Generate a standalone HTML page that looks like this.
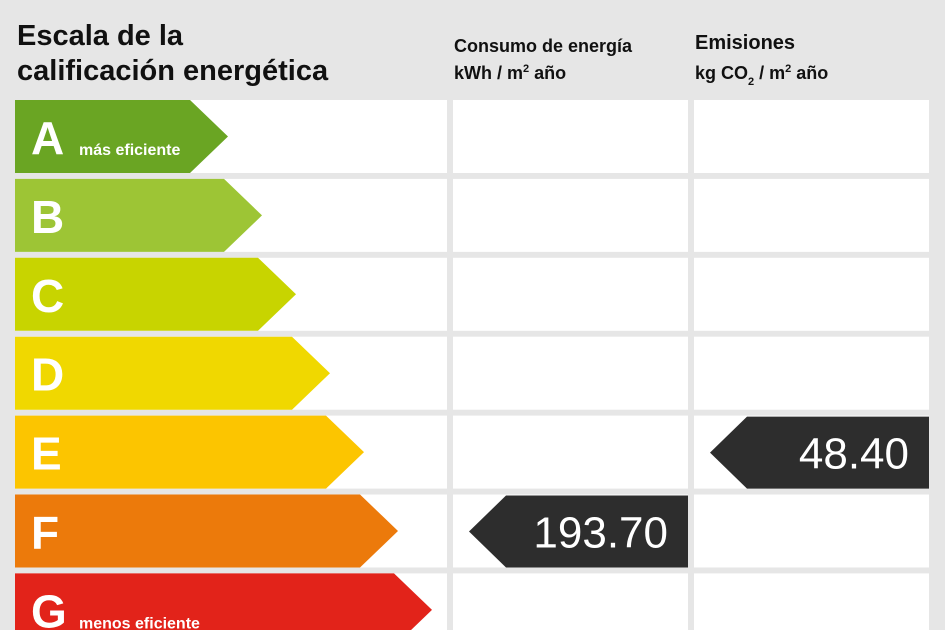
<!DOCTYPE html>
<html><head><meta charset="utf-8"><style>
body{margin:0;background:#e6e6e6;}
svg{display:block;font-family:"Liberation Sans",sans-serif;}
</style></head><body>
<svg id="c" width="945" height="630">
<rect x="0" y="0" width="945" height="630" fill="#e6e6e6"/>
<text x="17" y="45" font-size="29" font-weight="bold" fill="#111">Escala de la</text>
<text x="17" y="80" font-size="29" font-weight="bold" fill="#111">calificación energética</text>
<text x="454" y="52" font-size="18" font-weight="bold" fill="#111">Consumo de energía</text>
<text x="454" y="79" font-size="18" font-weight="bold" fill="#111">kWh / m<tspan font-size="11" dy="-7">2</tspan><tspan dy="7"> año</tspan></text>
<text x="695" y="49" font-size="20" font-weight="bold" fill="#111">Emisiones</text>
<text x="695" y="79" font-size="18" font-weight="bold" fill="#111">kg CO<tspan font-size="11" dy="6">2</tspan><tspan dy="-6"> / m</tspan><tspan font-size="11" dy="-7">2</tspan><tspan dy="7"> año</tspan></text>
<g id="rows"></g>
</svg>
<script>
const ratings=["A","B","C","D","E","F","G"];
const ratingColors=["#6aa523","#9dc535","#c8d400","#f0d800","#fcc500","#ec7a0b","#e2231a"];
const ratingNotes=["más eficiente","","","","","","menos eficiente"];
const consumoValue=193.70;
const consumoRating="F";
const emisionesValue=48.40;
const emisionesRating="E";
const NS="http://www.w3.org/2000/svg";
const g=document.getElementById("rows");
const rowY=i=>100+i*78.9, rowH=73;
function mk(t,a){const e=document.createElementNS(NS,t);for(const k in a)e.setAttribute(k,a[k]);g.appendChild(e);return e;}
ratings.forEach((r,i)=>{
  const y=rowY(i);
  let e=mk("rect",{x:15,y:y,width:432,height:rowH,fill:"#fff"});
  
  
  e=mk("rect",{x:453,y:y,width:235,height:rowH,fill:"#fff"});
  
  
  e=mk("rect",{x:694,y:y,width:235,height:rowH,fill:"#fff"});
  
  
  const body=190+i*34, tip=body+38;
  e=mk("polygon",{points:`15,${y} ${body},${y} ${tip},${y+rowH/2} ${body},${y+rowH} 15,${y+rowH}`,fill:ratingColors[i]});
  
  
  e=mk("text",{x:31,y:y+54,"font-size":46,"font-weight":"bold",fill:"#fff"});
  e.textContent=r;
  
  
  if(ratingNotes[i]){
    e=mk("text",{x:r==="G"?79:79,y:y+55,"font-size":16,"font-weight":"bold",fill:"#fff"});
    e.textContent=ratingNotes[i];
    
    
  }
});
function pointer(x0,x1,idx,val,name){
  const y=rowY(idx)+1, h=72;
  let e=mk("polygon",{points:`${x0+37},${y} ${x1},${y} ${x1},${y+h} ${x0+37},${y+h} ${x0},${y+h/2}`,fill:"#2d2d2d"});
  
  
  e=mk("text",{x:x1-20,y:y+52,"font-size":44,fill:"#fff","text-anchor":"end"});
  e.textContent=val.toFixed(2);
  
  
}
pointer(469,688,ratings.indexOf(consumoRating),consumoValue,'consumo');
pointer(710,929,ratings.indexOf(emisionesRating),emisionesValue,'emisiones');
</script>
</body></html>
